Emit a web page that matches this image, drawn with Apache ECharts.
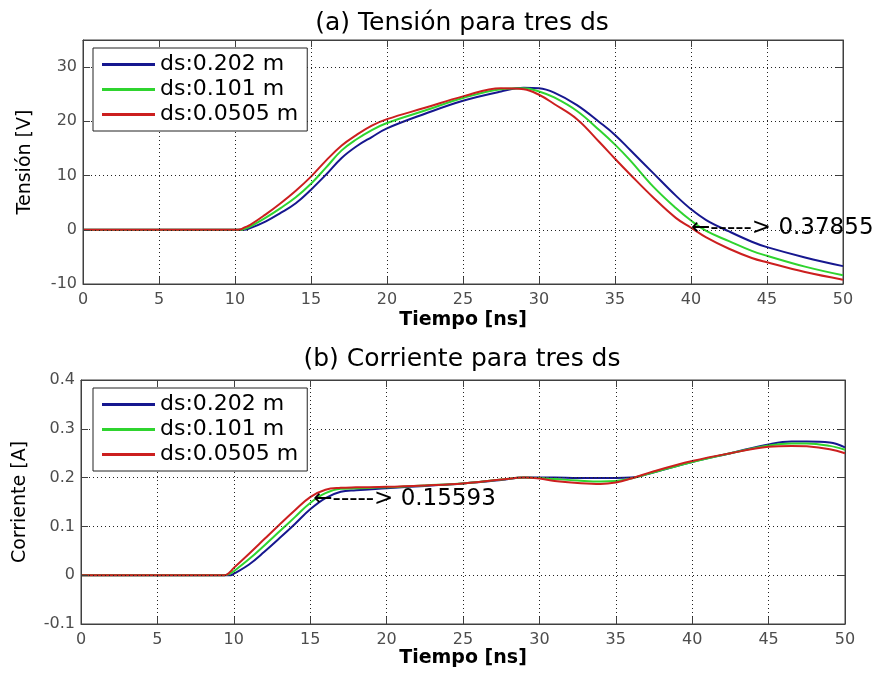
<!DOCTYPE html>
<html>
<head>
<meta charset="utf-8">
<script src="https://cdn.jsdelivr.net/npm/echarts@6/dist/echarts.min.js"></script>
<style>
html,body{margin:0;padding:0;background:#fff;}
#chart{width:883px;height:673px;}
</style>
</head>
<body>
<div id="chart"></div>
<script>
// ---- data ----
const seriesNames = ['ds:0.202 m', 'ds:0.101 m', 'ds:0.0505 m'];
const xTicks = [0, 5, 10, 15, 20, 25, 30, 35, 40, 45, 50];

// (a) Tensión [V]
const tA = [0, 10, 10.2, 10.4, 10.6, 11, 12, 13, 14, 15, 16, 17, 18, 19, 20, 22.5, 25, 27.5, 29, 30, 31, 32.5, 34, 35, 36, 37.5, 39, 40, 41, 42.5, 44, 45, 47.5, 50];
const vBlue  = [0, 0, 0, 0, 0, 0.3, 1.5, 3.1, 4.9, 7.4, 10.2, 13.2, 15.4, 17.1, 18.7, 21.4, 23.8, 25.5, 26.2, 26.1, 25.3, 23.0, 19.8, 17.5, 14.7, 10.5, 6.3, 3.8, 1.8, -0.3, -2.2, -3.2, -5.1, -6.7];
const vGreen = [0, 0, 0, 0, 0.15, 0.6, 2.2, 4.0, 6.0, 8.5, 11.5, 14.6, 16.7, 18.4, 19.7, 22.0, 24.3, 25.9, 26.1, 25.5, 24.4, 21.9, 18.3, 15.7, 12.8, 8.0, 4.0, 1.7, -0.2, -2.1, -3.9, -4.8, -6.8, -8.4];
const vRed   = [0, 0, 0, 0.1, 0.4, 0.9, 2.8, 4.9, 7.2, 9.8, 12.8, 15.5, 17.5, 19.2, 20.4, 22.5, 24.6, 26.1, 25.9, 24.9, 23.2, 20.4, 16.1, 13.1, 10.2, 6.0, 2.2, 0.38, -1.4, -3.5, -5.2, -6.0, -7.8, -9.2];
const yTicksA = [-10, 0, 10, 20, 30];
const annotA = [40, 0.37855];
const annotAText = '←-----> 0.37855';

// (b) Corriente [A]
const tB = [0, 9.4, 9.8, 10, 11, 12, 13, 14, 15, 16, 17, 18, 20, 22.5, 25, 27.5, 29, 30, 31, 32.5, 34, 35, 36, 37.5, 40, 42.5, 45, 46.5, 47.5, 49, 50];
const iBlue  = [0, 0, 0, 0.003, 0.022, 0.048, 0.076, 0.105, 0.135, 0.158, 0.171, 0.174, 0.178, 0.183, 0.188, 0.195, 0.2, 0.2, 0.2, 0.199, 0.199, 0.199, 0.2, 0.211, 0.232, 0.25, 0.268, 0.274, 0.274, 0.272, 0.262];
const iGreen = [0, 0, 0.004, 0.008, 0.033, 0.061, 0.09, 0.119, 0.148, 0.168, 0.177, 0.178, 0.18, 0.184, 0.188, 0.196, 0.2, 0.199, 0.197, 0.194, 0.192, 0.193, 0.198, 0.211, 0.232, 0.25, 0.266, 0.27, 0.27, 0.265, 0.257];
const iRed   = [0, 0, 0.008, 0.015, 0.044, 0.074, 0.104, 0.133, 0.16, 0.175, 0.179, 0.18, 0.181, 0.184, 0.188, 0.196, 0.2, 0.198, 0.193, 0.189, 0.187, 0.19, 0.198, 0.213, 0.234, 0.25, 0.263, 0.265, 0.264, 0.258, 0.25];
const yTicksB = [-0.1, 0, 0.1, 0.2, 0.3, 0.4];
const annotB = [15.2, 0.15593];
const annotBText = '←-----> 0.15593';

const titles = ['(a) Tensión para tres ds', '(b) Corriente para tres ds'];
const xName = 'Tiempo [ns]';
const yNames = ['Tensión [V]', 'Corriente [A]'];

// ---- styling ----
const colors = ['#16178f', '#2fd42f', '#cc1f1f'];
const FONT = 'DejaVu Sans';
const zip = (xs, ys) => xs.map((x, i) => [x, ys[i]]);

function mkX(gridIndex, mirror, nameGap) {
  return {
    type: 'value', gridIndex, min: xTicks[0], max: xTicks[xTicks.length - 1], interval: xTicks[1] - xTicks[0],
    position: mirror ? 'top' : 'bottom',
    name: mirror ? '' : xName, nameLocation: 'middle', nameGap,
    nameTextStyle: {fontFamily: FONT, fontSize: 19, fontWeight: 'bold', color: '#000'},
    axisLine: {show: true, onZero: false, lineStyle: {color: '#404040', width: 1}},
    axisTick: {show: true, inside: true, length: 7, lineStyle: {color: '#404040'}},
    axisLabel: {show: !mirror, margin: 8, fontFamily: FONT, fontSize: 16, color: '#4d4d4d'},
    splitLine: {show: !mirror, showMinLine: false, showMaxLine: false, lineStyle: {color: '#222', width: 1, type: [1, 3]}},
    z: mirror ? 4 : 3
  };
}
function mkY(gridIndex, mirror, ticks, max, nameIdx, nameGap) {
  return {
    type: 'value', gridIndex, min: ticks[0], max, interval: +(ticks[1] - ticks[0]).toFixed(6),
    position: mirror ? 'right' : 'left',
    name: mirror ? '' : yNames[nameIdx], nameLocation: 'middle', nameGap,
    nameTextStyle: {fontFamily: FONT, fontSize: 19, color: '#000'},
    axisLine: {show: true, onZero: false, lineStyle: {color: '#404040', width: 1}},
    axisTick: {show: true, inside: true, length: 7, lineStyle: {color: '#404040'}},
    axisLabel: {show: !mirror, margin: 6, fontFamily: FONT, fontSize: 16, color: '#4d4d4d', showMaxLabel: max === ticks[ticks.length - 1]},
    splitLine: {show: !mirror, showMinLine: false, showMaxLine: false, lineStyle: {color: '#222', width: 1, type: [1, 3]}},
    z: mirror ? 4 : 3
  };
}
function mkSeries(name, data, c, xi, yi, annot, annotText) {
  const s = {
    type: 'line', name, data, xAxisIndex: xi, yAxisIndex: yi,
    showSymbol: false, smooth: 0.4,
    lineStyle: {color: c, width: 2}, itemStyle: {color: c},
    emphasis: {disabled: true}, z: 2
  };
  if (annot) {
    s.markPoint = {
      symbol: 'circle', symbolSize: 0.1, itemStyle: {color: 'rgba(0,0,0,0)'},
      silent: true,
      label: {show: true, position: 'right', distance: 0, formatter: annotText,
              fontFamily: FONT, fontSize: 23, color: '#000'},
      data: [{coord: annot}]
    };
  }
  return s;
}
function mkLegend(top) {
  return {
    data: seriesNames, orient: 'vertical', left: 93, top,
    backgroundColor: '#fff', borderColor: '#222', borderWidth: 1,
    padding: [4, 9, 4, 9], itemGap: 0, itemWidth: 53, itemHeight: 3, icon: 'rect',
    textStyle: {fontFamily: FONT, fontSize: 22, color: '#000', lineHeight: 25},
    selectedMode: false
  };
}

const chart = echarts.init(document.getElementById('chart'), null, {renderer: 'canvas'});
chart.setOption({
  animation: false,
  backgroundColor: '#fff',
  title: [
    {text: titles[0], left: 462, top: 11, textAlign: 'center', padding: 0,
     textStyle: {fontFamily: FONT, fontSize: 25, fontWeight: 'normal', color: '#000'}},
    {text: titles[1], left: 462, top: 347, textAlign: 'center', padding: 0,
     textStyle: {fontFamily: FONT, fontSize: 25, fontWeight: 'normal', color: '#000'}}
  ],
  legend: [mkLegend(48), mkLegend(388)],
  grid: [
    {left: 83, right: 40, top: 40, height: 244, show: true, borderColor: '#404040', borderWidth: 1, backgroundColor: '#fff'},
    {left: 81, right: 38, top: 380, height: 244, show: true, borderColor: '#404040', borderWidth: 1, backgroundColor: '#fff'}
  ],
  xAxis: [mkX(0, false, 27), mkX(0, true, 0), mkX(1, false, 24), mkX(1, true, 0)],
  yAxis: [mkY(0, false, yTicksA, 35, 0, 48), mkY(0, true, yTicksA, 35, 0, 0),
          mkY(1, false, yTicksB, 0.4, 1, 51), mkY(1, true, yTicksB, 0.4, 1, 0)],
  series: [
    mkSeries(seriesNames[0], zip(tA, vBlue), colors[0], 0, 0),
    mkSeries(seriesNames[1], zip(tA, vGreen), colors[1], 0, 0),
    mkSeries(seriesNames[2], zip(tA, vRed), colors[2], 0, 0, annotA, annotAText),
    mkSeries(seriesNames[0], zip(tB, iBlue), colors[0], 2, 2),
    mkSeries(seriesNames[1], zip(tB, iGreen), colors[1], 2, 2),
    mkSeries(seriesNames[2], zip(tB, iRed), colors[2], 2, 2, annotB, annotBText)
  ]
});
</script>
</body>
</html>
